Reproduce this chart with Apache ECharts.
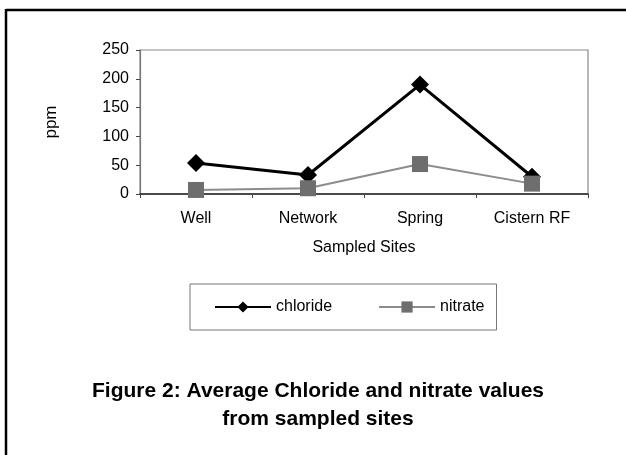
<!DOCTYPE html>
<html><head><meta charset="utf-8">
<script src="https://cdn.jsdelivr.net/npm/echarts@6/dist/echarts.min.js"></script>
<style>html,body{margin:0;padding:0;background:#fff}#c{width:626px;height:455px}</style>
</head><body><div id="c"></div>
<script>
const categories = ['Well', 'Network', 'Spring', 'Cistern RF'];
const chloride = [54, 33, 190, 30];
const nitrate = [7, 10, 52, 18];
const yTicks = [0, 50, 100, 150, 200, 250];

const chart = echarts.init(document.getElementById('c'));
const font = '"Liberation Sans", Arial, sans-serif';
chart.setOption({
  animation: false,
  backgroundColor: '#fff',
  graphic: [
    { type: 'line', shape: { x1: 6, y1: 10, x2: 626, y2: 10 }, style: { stroke: '#000', lineWidth: 2.5 } },
    { type: 'line', shape: { x1: 6, y1: 9, x2: 6, y2: 455 }, style: { stroke: '#000', lineWidth: 2.5 } },
    { type: 'text', x: 318, y: 405,
      style: { text: 'Figure 2: Average Chloride and nitrate values\nfrom sampled sites',
        font: 'bold 21px "Liberation Sans", Arial, sans-serif', fill: '#000',
        align: 'center', verticalAlign: 'middle', lineHeight: 28 } }
  ],
  grid: { left: 140, right: 38, top: 50, bottom: 261, show: true, borderColor: '#8a8a8a', borderWidth: 1.2 },
  legend: {
    left: 190, top: 284, padding: [15, 12, 15, 24],
    itemGap: 46, itemWidth: 56, itemHeight: 14,
    borderColor: '#777', borderWidth: 1,
    textStyle: { fontFamily: font, fontSize: 16, color: '#000' },
    data: ['chloride', 'nitrate']
  },
  xAxis: {
    type: 'category', data: categories, boundaryGap: true,
    name: 'Sampled Sites', nameLocation: 'middle', nameGap: 46,
    nameTextStyle: { fontFamily: font, fontSize: 16, color: '#000' },
    axisLine: { lineStyle: { color: '#222', width: 1.5 } },
    axisTick: { show: true, length: 4, lineStyle: { color: '#444' } },
    axisLabel: { fontFamily: font, fontSize: 16, color: '#000', margin: 17 }
  },
  yAxis: {
    type: 'value', min: 0, max: 250, interval: 50,
    name: 'ppm', nameLocation: 'middle', nameGap: 80, nameRotate: 90,
    nameTextStyle: { fontFamily: font, fontSize: 17, color: '#000' },
    axisLine: { show: true, lineStyle: { color: '#777', width: 1.2 } },
    axisTick: { show: true, length: 4, lineStyle: { color: '#444' } },
    splitLine: { show: false },
    axisLabel: { fontFamily: font, fontSize: 16, color: '#000', margin: 11,
      formatter: v => yTicks.includes(v) ? String(v) : '' }
  },
  series: [
    { name: 'chloride', type: 'line', data: chloride, symbol: 'diamond', symbolSize: [18, 18],
      lineStyle: { color: '#000', width: 3 }, itemStyle: { color: '#000' }, z: 2 },
    { name: 'nitrate', type: 'line', data: nitrate, symbol: 'rect', symbolSize: 16,
      lineStyle: { color: '#8c8c8c', width: 2 }, itemStyle: { color: '#6e6e6e' }, z: 3 }
  ]
});
</script></body></html>
